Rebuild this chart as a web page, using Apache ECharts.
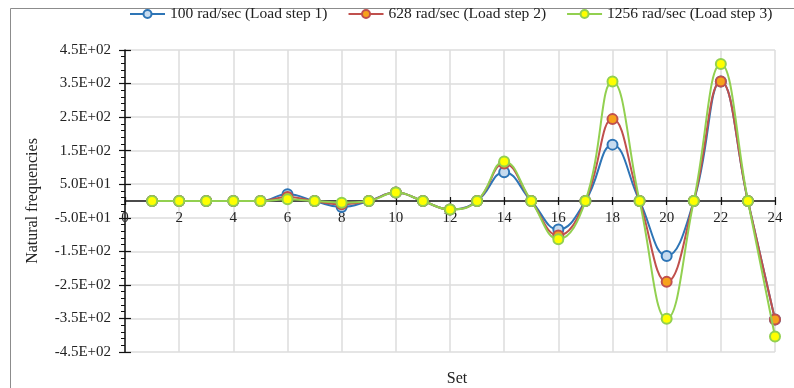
<!DOCTYPE html>
<html>
<head>
<meta charset="utf-8">
<script src="https://cdn.jsdelivr.net/npm/echarts@6/dist/echarts.min.js"></script>
<style>html,body{margin:0;padding:0;background:#fff;}#c{width:794px;height:388px;}</style>
</head>
<body>
<div id="c"></div>
<script>
const sets = [1,2,3,4,5,6,7,8,9,10,11,12,13,14,15,16,17,18,19,20,21,22,23,24];
const step1 = [0,0,0,0,0,20,0,-18,0,25,0,-25,0,86,0,-85,0,168,0,-164,0,356,0,-353];
const step2 = [0,0,0,0,0,12,0,-10,0,25,0,-25,0,112,0,-103,0,244,0,-241,0,356,0,-353];
const step3 = [0,0,0,0,0,5,0,-5,0,25,0,-25,0,118,0,-114,0,356,0,-351,0,408,0,-404];
const seriesNames = ['100 rad/sec (Load step 1)','628 rad/sec (Load step 2)','1256 rad/sec (Load step 3)'];
const yAxisTitle = 'Natural frequencies';
const xAxisTitle = 'Set';

const FONT = '"Liberation Serif", "Times New Roman", serif';
function fmtE(v){
  if (v === 0) return '0';
  const e = Math.floor(Math.log10(Math.abs(v)) + 1e-9);
  const m = v / Math.pow(10, e);
  return m.toFixed(1) + 'E' + (e >= 0 ? '+' : '-') + String(Math.abs(e)).padStart(2, '0');
}
function pairs(vals){ return sets.map((x,i)=>[x, vals[i]]); }

const styles = [
  {line:'#2e75b6', fill:'#c6dbef'},
  {line:'#c0504d', fill:'#f7a21b'},
  {line:'#92d050', fill:'#ffff00'}
];
const allData = [step1, step2, step3];

const H = 388, GTOP = 50, GBOTTOM = 36;
const YMIN = -450, YMAX = 450;
const gridH = H - GTOP - GBOTTOM;
const zeroOffset = -gridH * (0 - YMIN) / (YMAX - YMIN);

const chart = echarts.init(document.getElementById('c'), null, {renderer:'canvas'});
chart.setOption({
  animation:false,
  backgroundColor:'#fff',
  graphic:[{type:'rect', shape:{x:10.5,y:8.5,width:820,height:420}, style:{fill:'none', stroke:'#8c8c8c', lineWidth:1}, z:-10}],
  title:{text:xAxisTitle, left:452, top:366, textAlign:'center',
         textStyle:{fontFamily:FONT, fontSize:16, fontWeight:'normal', color:'#222'}},
  legend:{
    left:124, top:1, itemWidth:35, itemHeight:10, itemGap:20,
    textStyle:{fontFamily:FONT, fontSize:15.5, color:'#222'},
    data:seriesNames
  },
  grid:{left:125, right:19, top:GTOP, bottom:GBOTTOM},
  xAxis:[{
    type:'value', min:0, max:24, interval:2, position:'bottom', offset:zeroOffset,
    axisLine:{show:true, onZero:false, lineStyle:{color:'#111', width:1.5}},
    axisTick:{show:true, length:4, lineStyle:{color:'#111', width:1.2}},
    axisLabel:{fontFamily:FONT, fontSize:15, color:'#222', margin:10},
    splitLine:{show:true, lineStyle:{color:'#dcdcdc', width:1.5}}
  },{
    type:'value', min:0, max:24, interval:2, position:'bottom', offset:zeroOffset,
    axisLine:{show:false, onZero:false},
    axisTick:{show:true, inside:true, length:4, lineStyle:{color:'#111', width:1.2}},
    axisLabel:{show:false}, splitLine:{show:false}
  }],
  yAxis:[{
    type:'value', min:YMIN, max:YMAX, interval:100,
    name:yAxisTitle, nameLocation:'middle', nameGap:84,
    nameTextStyle:{fontFamily:FONT, fontSize:16, color:'#222'},
    axisLine:{show:true, onZero:false, lineStyle:{color:'#111', width:1.5}},
    axisTick:{show:true, length:6, lineStyle:{color:'#111', width:1.2}},
    minorTick:{show:true, splitNumber:5, length:4, lineStyle:{color:'#111', width:1}},
    axisLabel:{fontFamily:FONT, fontSize:15, color:'#222', margin:14, formatter:fmtE},
    splitLine:{show:true, lineStyle:{color:'#dcdcdc', width:1.5}}
  },{
    type:'value', min:YMIN, max:YMAX, interval:100, position:'left',
    axisLine:{show:false, onZero:false},
    axisTick:{show:true, inside:true, length:6, lineStyle:{color:'#111', width:1.2}},
    axisLabel:{show:false}, splitLine:{show:false}
  }],
  series: allData.map((d,i)=>({
    name:seriesNames[i], type:'line', smooth:0.45,
    xAxisIndex:0, yAxisIndex:0,
    data:pairs(d),
    symbol:'circle', symbolSize:10,
    lineStyle:{color:styles[i].line, width:2},
    itemStyle:{color:styles[i].fill, borderColor:styles[i].line, borderWidth:2},
    z:2+i
  }))
});
</script>
</body>
</html>
